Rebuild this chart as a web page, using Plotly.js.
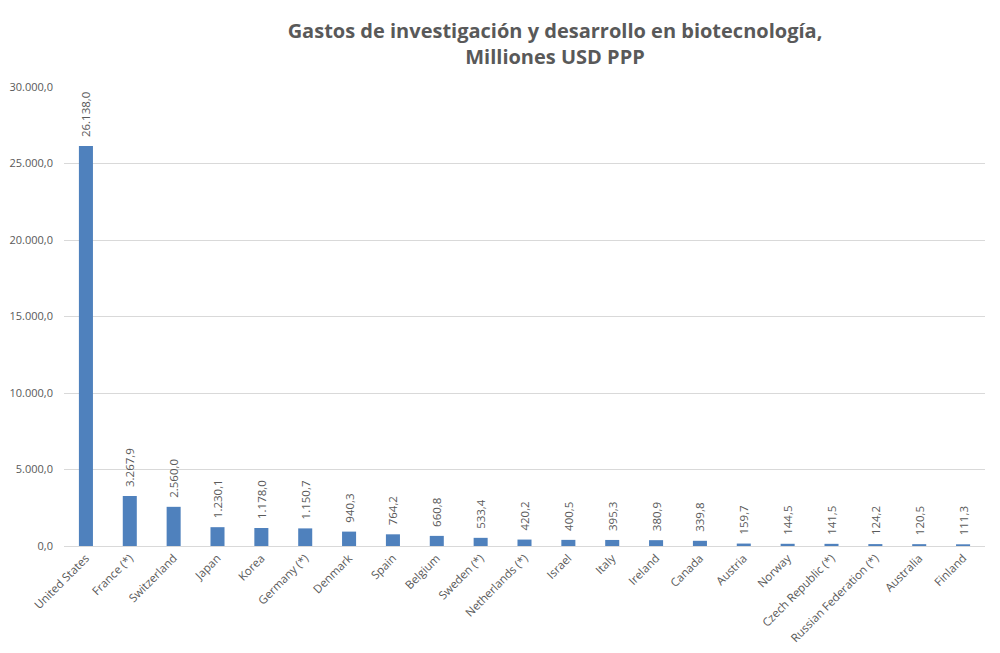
<!DOCTYPE html>
<html><head><meta charset="utf-8">
<script src="https://cdn.plot.ly/plotly-3.0.1.min.js"></script>
<style>body{margin:0;background:#fff}#c{width:1000px;height:653px}</style>
</head><body><div id="c"></div>
<script>
const countries = ["United States","France (*)","Switzerland","Japan","Korea","Germany (*)","Denmark","Spain","Belgium","Sweden (*)","Netherlands (*)","Israel","Italy","Ireland","Canada","Austria","Norway","Czech Republic (*)","Russian Federation (*)","Australia","Finland"];
const spending = [26138.0,3267.9,2560.0,1230.1,1178.0,1150.7,940.3,764.2,660.8,533.4,420.2,400.5,395.3,380.9,339.8,159.7,144.5,141.5,124.2,120.5,111.3];
const yTicks = [0,5000,10000,15000,20000,25000,30000];

const trace = {
  type:'bar', x:countries, y:spending,
  marker:{color:'#4f81bd'},
  texttemplate:'\u00a0\u00a0%{y:,.1f}', textposition:'outside', textangle:-90,
  constraintext:'none',
  textfont:{family:'Open Sans, sans-serif', size:11.5, color:'#595959'},
  cliponaxis:false, hoverinfo:'none'
};
const layout = {
  width:1000, height:653,
  margin:{l:64, r:15, t:87, b:107},
  separators:',.',
  paper_bgcolor:'#fff', plot_bgcolor:'#fff',
  title:{text:'<b>Gastos de investigación y desarrollo en biotecnología,<br>Milliones USD PPP</b>',
    x:0.555, xanchor:'center', yref:'container', y:0.942, yanchor:'middle',
    font:{family:'Open Sans, sans-serif', size:20, color:'#595959'}},
  bargap:0.68,
  showlegend:false,
  xaxis:{tickangle:-45, automargin:false, showline:true, linecolor:'#d9d9d9', ticks:'',
    tickfont:{family:'Open Sans, sans-serif', size:11.5, color:'#595959'}},
  yaxis:{range:[0,30000], tickvals:yTicks, tickformat:',.1f', automargin:false,
    gridcolor:'#d9d9d9', zeroline:false, ticks:'', showline:false, ticklabelstandoff:10,
    tickfont:{family:'Open Sans, sans-serif', size:11, color:'#595959'}}
};
Plotly.newPlot('c',[trace],layout,{staticPlot:true});
</script></body></html>
